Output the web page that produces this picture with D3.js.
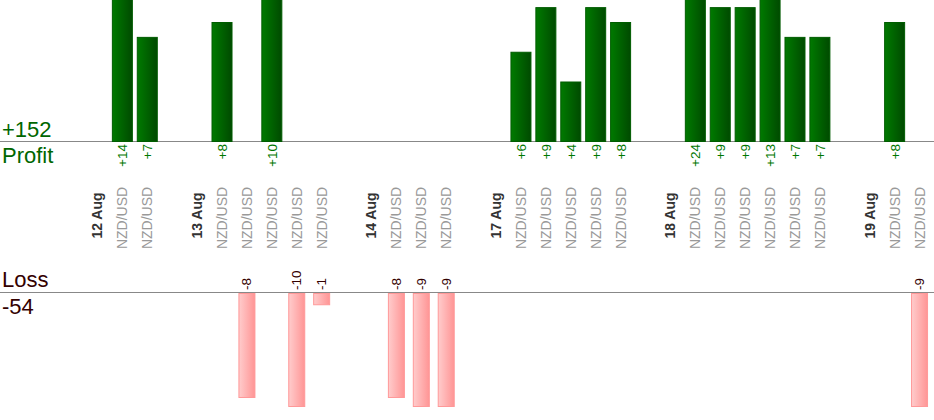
<!DOCTYPE html>
<html>
<head>
<meta charset="utf-8">
<script src="https://cdn.jsdelivr.net/npm/d3@7"></script>
<style>
  body { margin: 0; background: #fff; }
  svg { display: block; font-family: Arial, "Liberation Sans", sans-serif; }
</style>
</head>
<body>
<div id="chart"></div>
<script>
// Days and the result of each trade on that day (pips, rounded)
const days = ['12 Aug', '13 Aug', '14 Aug', '17 Aug', '18 Aug', '19 Aug'];
const dayTrades = [
  [14, 7],
  [8, -8, 10, -10, -1],
  [-8, -9, -9],
  [6, 9, 4, 9, 8],
  [24, 9, 9, 13, 7, 7],
  [8, -9],
];
const pair = 'NZD/USD';

const width = 934;
const height = 420;
const profitAxisY = 141;
const lossAxisY = 292;

// Flatten into slots: a date slot, its trades, then an empty gap slot
const slots = [];
days.forEach((day, i) => {
  slots.push({ type: 'date', label: day });
  dayTrades[i].forEach((v) => slots.push({ type: 'trade', label: pair, value: v }));
  if (i < days.length - 1) slots.push({ type: 'gap' });
});
const trades = slots.filter((s) => s.type === 'trade');
const totalProfit = d3.sum(trades, (d) => (d.value > 0 ? d.value : 0));
const totalLoss = d3.sum(trades, (d) => (d.value < 0 ? d.value : 0));

const svg = d3
  .select('#chart')
  .append('svg')
  .attr('width', width)
  .attr('height', height);

const x = d3
  .scaleBand()
  .domain(d3.range(slots.length))
  .range([85, 932]);

// profit bars grow up from the top axis, loss bars down from the lower one
const yProfit = d3.scaleLinear().domain([0, 8]).range([profitAxisY, profitAxisY - 119]);
const yLoss = d3
  .scaleLinear()
  .domain([0, 8.68])
  .range([lossAxisY, 407])
  .clamp(true);

const defs = svg.append('defs');
const greenGrad = defs.append('linearGradient').attr('id', 'gGreen');
greenGrad.append('stop').attr('offset', '0%').attr('stop-color', '#007a00');
greenGrad.append('stop').attr('offset', '100%').attr('stop-color', '#004a00');
const redGrad = defs.append('linearGradient').attr('id', 'gRed');
redGrad.append('stop').attr('offset', '0%').attr('stop-color', '#ffcccc');
redGrad.append('stop').attr('offset', '100%').attr('stop-color', '#ff9595');

// axis lines
svg
  .selectAll('line.base')
  .data([profitAxisY, lossAxisY])
  .enter()
  .append('line')
  .attr('class', 'base')
  .attr('x1', 0)
  .attr('x2', width)
  .attr('y1', (d) => d + 0.5)
  .attr('y2', (d) => d + 0.5)
  .style('stroke', '#888')
  .style('stroke-width', 1.2);

const indexed = slots.map((s, i) => ({ ...s, i }));
const profitData = indexed.filter((s) => s.type === 'trade' && s.value > 0);
const lossData = indexed.filter((s) => s.type === 'trade' && s.value < 0);
const cx = (d) => x(d.i) + x.bandwidth() / 2;

// profit bars
svg
  .selectAll('rect.profit')
  .data(profitData)
  .enter()
  .append('rect')
  .attr('class', 'profit')
  .attr('x', (d) => cx(d) - 10)
  .attr('y', (d) => yProfit(d.value) + 0.5)
  .attr('width', 20)
  .attr('height', (d) => profitAxisY - yProfit(d.value))
  .style('fill', 'url(#gGreen)')
  .style('stroke', '#005c00')
  .style('stroke-width', 1);

// loss bars
svg
  .selectAll('rect.loss')
  .data(lossData)
  .enter()
  .append('rect')
  .attr('class', 'loss')
  .attr('x', (d) => cx(d) - 8)
  .attr('y', lossAxisY + 1.5)
  .attr('width', 16)
  .attr('height', (d) => yLoss(-d.value) - lossAxisY - 2)
  .style('fill', 'url(#gRed)')
  .style('stroke', '#ff9999')
  .style('stroke-width', 1);

// value labels
svg
  .selectAll('text.pval')
  .data(profitData)
  .enter()
  .append('text')
  .attr('class', 'pval')
  .attr('transform', (d) => `translate(${cx(d) + 5},${profitAxisY + 3}) rotate(-90)`)
  .attr('text-anchor', 'end')
  .attr('font-size', '13.5px')
  .attr('fill', '#007700')
  .text((d) => `+${d.value}`);

svg
  .selectAll('text.lval')
  .data(lossData)
  .enter()
  .append('text')
  .attr('class', 'lval')
  .attr('transform', (d) => `translate(${cx(d) + 4.5},${lossAxisY - 2}) rotate(-90)`)
  .attr('text-anchor', 'start')
  .attr('font-size', '13.5px')
  .attr('fill', '#330000')
  .text((d) => d.value);

// category labels
svg
  .selectAll('text.cat')
  .data(indexed.filter((s) => s.type !== 'gap'))
  .enter()
  .append('text')
  .attr('class', 'cat')
  .attr('transform', (d) =>
    `translate(${cx(d) + 5},${d.type === 'date' ? 215.5 : 218}) rotate(-90)`
  )
  .attr('text-anchor', 'middle')
  .attr('font-size', '14px')
  .attr('font-weight', (d) => (d.type === 'date' ? 'bold' : 'normal'))
  .attr('fill', (d) => (d.type === 'date' ? '#333' : '#999'))
  .text((d) => d.label);

// totals
const totals = [
  { text: `+${totalProfit}`, y: 137, color: '#006600' },
  { text: 'Profit', y: 163, color: '#006600' },
  { text: 'Loss', y: 287, color: '#330000' },
  { text: `${totalLoss}`, y: 314, color: '#330000' },
];
svg
  .selectAll('text.total')
  .data(totals)
  .enter()
  .append('text')
  .attr('class', 'total')
  .attr('x', 2)
  .attr('y', (d) => d.y)
  .attr('font-size', '22px')
  .attr('fill', (d) => d.color)
  .text((d) => d.text);
</script>
</body>
</html>
